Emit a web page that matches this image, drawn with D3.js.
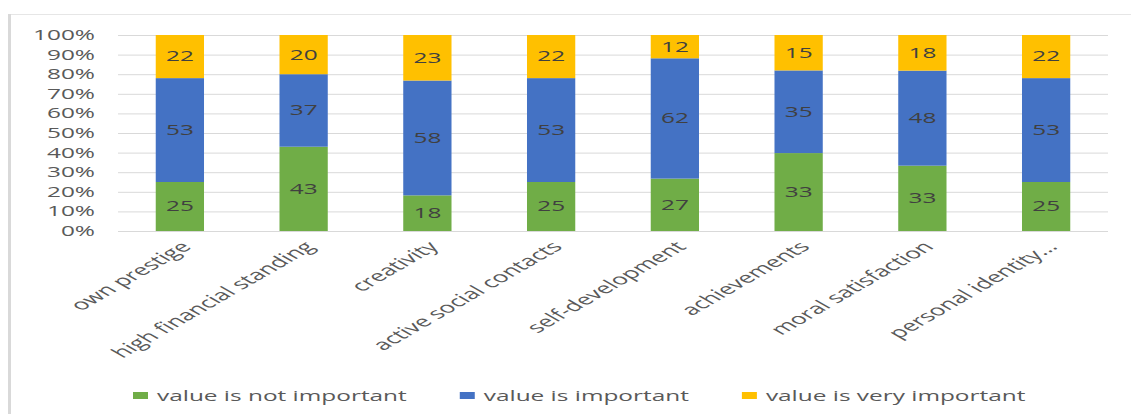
<!DOCTYPE html>
<html>
<head>
<meta charset="utf-8">
<script src="https://cdn.jsdelivr.net/npm/d3@7"></script>
<style>
  html, body { margin: 0; padding: 0; background: #fff; }
  svg { display: block; }
  text { font-family: "Open Sans", "DejaVu Sans", sans-serif; }
</style>
</head>
<body>
<svg id="chart" width="1131" height="414"></svg>
<script>
const categories = ["own prestige", "high financial standing", "creativity", "active social contacts",
  "self-development", "achievements", "moral satisfaction", "personal identity..."];
const seriesNames = ["value is not important", "value is important", "value is very important"];
const notImportant = [25, 43, 18, 25, 27, 33, 33, 25];
const important = [53, 37, 58, 53, 62, 35, 48, 53];
const veryImportant = [22, 20, 23, 22, 12, 15, 18, 22];
const yTicks = [0, 0.1, 0.2, 0.3, 0.4, 0.5, 0.6, 0.7, 0.8, 0.9, 1.0];
const colors = ["#70AD47", "#4472C4", "#FFC000"];

const rows = categories.map((c, i) => ({
  cat: c, s0: notImportant[i], s1: important[i], s2: veryImportant[i]
}));
const keys = ["s0", "s1", "s2"];

const svg = d3.select("#chart");
const W = 1131, H = 414;
const plot = { left: 118, right: 1108, top: 35, bottom: 231 };
const FS = 14;

// frame
svg.append("line").attr("x1", 9).attr("x2", W).attr("y1", 14.5).attr("y2", 14.5)
  .attr("stroke", "#e6e6e6").attr("stroke-width", 1);
svg.append("line").attr("x1", 9.5).attr("x2", 9.5).attr("y1", 14).attr("y2", H)
  .attr("stroke", "#d9d9d9").attr("stroke-width", 3);

// measure stretch factor from the legend text target width
const probe = svg.append("text").attr("font-size", FS).text(seriesNames[0]);
const SX = 250 / probe.node().getComputedTextLength();
probe.remove();

const x = d3.scaleBand().domain(categories).range([plot.left, plot.right])
  .paddingInner(0.61).paddingOuter(0.305);
const y = d3.scaleLinear().domain([0, 1]).range([plot.bottom, plot.top]);

// gridlines
const yAxis = d3.axisLeft(y).tickValues(yTicks).tickSize(-(plot.right - plot.left)).tickFormat("");
const gy = svg.append("g").attr("transform", `translate(${plot.left},0)`).call(yAxis);
gy.select(".domain").remove();
gy.selectAll(".tick line").attr("stroke", "#d9d9d9").attr("stroke-width", 1);

// y labels
svg.append("g").selectAll("g").data(yTicks).join("g")
  .attr("transform", d => `translate(95,${y(d)}) scale(${SX},1)`)
  .append("text").attr("text-anchor", "end").attr("dy", "0.35em")
  .attr("font-size", FS).attr("fill", "#595959")
  .text(d => d3.format(".0%")(d));

// stacked bars (normalized)
const stack = d3.stack().keys(keys).offset(d3.stackOffsetExpand);
const series = stack(rows);

const gs = svg.append("g").selectAll("g").data(series).join("g")
  .attr("fill", (d, i) => colors[i]);
gs.selectAll("rect").data(d => d).join("rect")
  .attr("x", d => x(d.data.cat))
  .attr("width", x.bandwidth())
  .attr("y", d => y(d[1]))
  .attr("height", d => y(d[0]) - y(d[1]));

// data labels
series.forEach((s, si) => {
  svg.append("g").selectAll("g").data(s).join("g")
    .attr("transform", d => `translate(${x(d.data.cat) + x.bandwidth() / 2},${(y(d[0]) + y(d[1])) / 2}) scale(${SX},1)`)
    .append("text").attr("text-anchor", "middle").attr("dy", "0.35em")
    .attr("font-size", FS).attr("fill", "#404040")
    .text(d => d.data[keys[si]]);
});

// x axis line
svg.append("line").attr("x1", plot.left).attr("x2", plot.right)
  .attr("y1", plot.bottom + 0.5).attr("y2", plot.bottom + 0.5)
  .attr("stroke", "#d9d9d9");

// category labels
svg.append("g").selectAll("g").data(categories).join("g")
  .attr("transform", d => `translate(${x(d) + x.bandwidth() / 2 + 6},${plot.bottom + 13}) scale(${SX},1) rotate(-45)`)
  .append("text").attr("text-anchor", "end").attr("dy", "0.35em")
  .attr("font-size", 15).attr("fill", "#595959")
  .text(d => d);

// legend
const lg = svg.append("g");
let lx = 133;
seriesNames.forEach((n, i) => {
  lg.append("rect").attr("x", lx).attr("y", 392).attr("width", 15).attr("height", 7).attr("fill", colors[i]);
  const t = lg.append("g").attr("transform", `translate(${lx + 24},396) scale(${SX},1)`)
    .append("text").attr("dy", "0.35em").attr("font-size", FS).attr("fill", "#595959").text(n);
  const w = t.node().getComputedTextLength() * SX;
  lx = lx + 24 + w + 53;
});
</script>
</body>
</html>
